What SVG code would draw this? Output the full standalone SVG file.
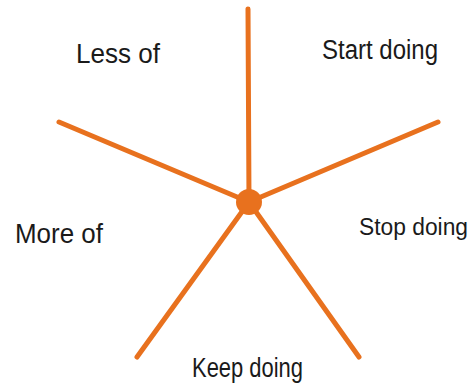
<svg xmlns="http://www.w3.org/2000/svg" width="476" height="384" viewBox="0 0 476 384">
<style>
.spoke{stroke:#E8711E;stroke-width:5;stroke-linecap:round;fill:none}
.lbl{font-family:"Liberation Sans",Arial,sans-serif;font-size:27px;fill:#1a1a1a}
</style>
<rect width="476" height="384" fill="#ffffff"/>
<g id="connectors">
<line class="spoke" x1="249" y1="202" x2="248" y2="9"/>
<line class="spoke" x1="249" y1="202" x2="59" y2="122"/>
<line class="spoke" x1="249" y1="202" x2="438" y2="122"/>
<line class="spoke" x1="249" y1="202" x2="137" y2="357"/>
<line class="spoke" x1="249" y1="202" x2="359" y2="357"/>
</g>
<g id="hub"><circle cx="249" cy="202" r="13" fill="#E8711E"/></g>
<g id="less-of"><text class="lbl" x="76" y="63" textLength="84" lengthAdjust="spacingAndGlyphs">Less of</text></g>
<g id="start-doing"><text class="lbl" x="322" y="59" textLength="116" lengthAdjust="spacingAndGlyphs">Start doing</text></g>
<g id="more-of"><text class="lbl" x="15" y="243" textLength="88" lengthAdjust="spacingAndGlyphs">More of</text></g>
<g id="stop-doing"><text class="lbl" x="359" y="235" style="font-size:23px" textLength="109" lengthAdjust="spacingAndGlyphs">Stop doing</text></g>
<g id="keep-doing"><text class="lbl" x="192" y="377" textLength="111" lengthAdjust="spacingAndGlyphs">Keep doing</text></g>
</svg>
